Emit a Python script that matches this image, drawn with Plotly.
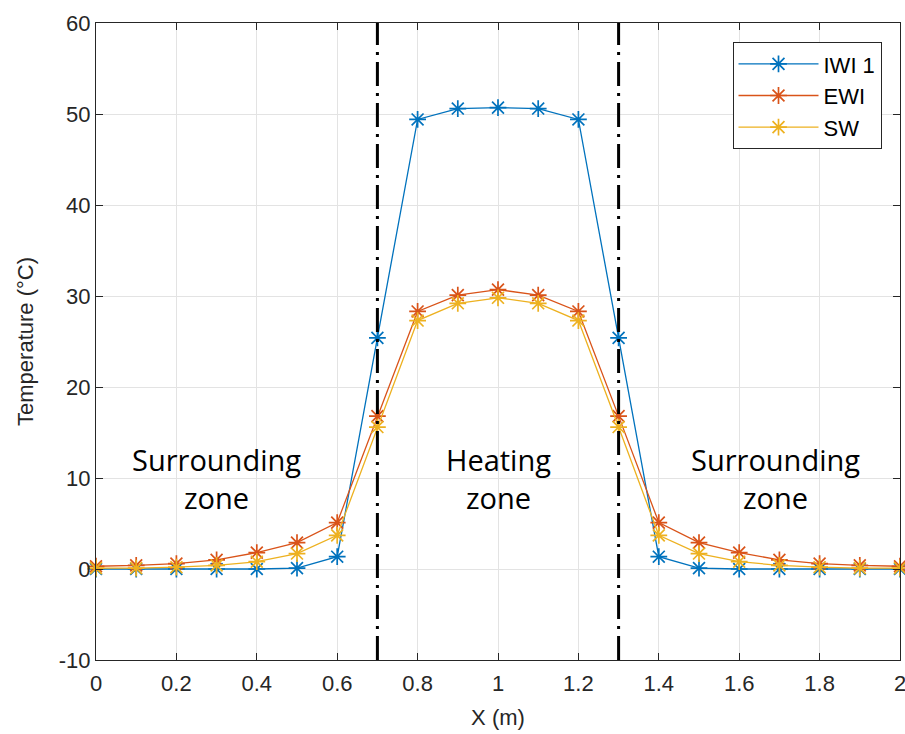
import plotly.graph_objects as go

x = [0, 0.1, 0.2, 0.3, 0.4, 0.5, 0.6, 0.7, 0.8, 0.9, 1.0, 1.1, 1.2, 1.3, 1.4, 1.5, 1.6, 1.7, 1.8, 1.9, 2.0]
iwi1 = [0.0, 0.0, 0.0, 0.0, 0.0, 0.1, 1.35, 25.4, 49.4, 50.6, 50.7, 50.6, 49.4, 25.4, 1.35, 0.1, 0.0, 0.0, 0.0, 0.0, 0.0]
ewi = [0.3, 0.4, 0.6, 1.0, 1.8, 2.9, 5.1, 16.8, 28.3, 30.1, 30.7, 30.1, 28.3, 16.8, 5.1, 2.9, 1.8, 1.0, 0.6, 0.4, 0.3]
sw = [0.1, 0.1, 0.2, 0.4, 0.8, 1.7, 3.7, 15.6, 27.3, 29.2, 29.8, 29.2, 27.3, 15.6, 3.7, 1.7, 0.8, 0.4, 0.2, 0.1, 0.1]
series_names = ["IWI 1", "EWI", "SW"]
colors = ["#0072BD", "#D95319", "#EDB120"]
zone_lines = [0.7, 1.3]
zone_labels = [(0.3, "Surrounding<br>zone"), (1.0, "Heating<br>zone"), (1.69, "Surrounding<br>zone")]
x_ticks = [0, 0.2, 0.4, 0.6, 0.8, 1, 1.2, 1.4, 1.6, 1.8, 2]
y_ticks = [-10, 0, 10, 20, 30, 40, 50, 60]

FONT = "Liberation Sans, Arial, sans-serif"

fig = go.Figure()
for name, ys, c in zip(series_names, [iwi1, ewi, sw], colors):
    fig.add_trace(go.Scatter(
        x=x, y=ys, name=name, mode="lines+markers", cliponaxis=False,
        line=dict(color=c, width=1.3),
        marker=dict(symbol="asterisk-open", size=14, line=dict(color=c, width=1.7), color=c),
    ))

for xl in zone_lines:
    fig.add_shape(type="line", x0=xl, x1=xl, y0=-10, y1=60, xref="x", yref="y",
                  line=dict(color="black", width=3, dash="24px,7px,3px,7px"))

for xa, t in zone_labels:
    fig.add_annotation(x=xa, y=10, text=t, showarrow=False, xref="x", yref="y",
                       font=dict(family="Open Sans", size=29, color="black"),
                       align="center")

axis_common = dict(
    showgrid=True, gridcolor="#e3e3e3", gridwidth=1,
    showline=True, linecolor="#262626", linewidth=1, mirror="allticks",
    ticks="inside", ticklen=7, tickcolor="#262626",
    zeroline=False, automargin=False, ticklabeloverflow="allow",
    tickfont=dict(family=FONT, size=22, color="#262626"),
)

fig.update_xaxes(range=[0, 2], tickvals=x_ticks, ticktext=[str(v) for v in x_ticks],
                 ticklabelstandoff=4,
                 title=dict(text="X (m)", font=dict(family=FONT, size=22, color="#262626"), standoff=14),
                 **axis_common)
fig.update_yaxes(range=[-10, 60], tickvals=y_ticks, ticktext=[str(v) for v in y_ticks],
                 title=dict(text="Temperature (°C)", font=dict(family=FONT, size=22, color="#262626"), standoff=19),
                 **axis_common)

fig.update_layout(
    width=905, height=734,
    margin=dict(l=96, r=5, t=23, b=74),
    plot_bgcolor="white", paper_bgcolor="white",
    legend=dict(x=0.977, y=0.97, xanchor="right", yanchor="top",
                bgcolor="white", bordercolor="#262626", borderwidth=1,
                font=dict(family=FONT, size=22, color="black"),
                itemwidth=80, tracegroupgap=0),
    showlegend=True,
)

fig.write_html("out.html", config={"displayModeBar": False},
               post_script="document.body.style.margin='0';")
